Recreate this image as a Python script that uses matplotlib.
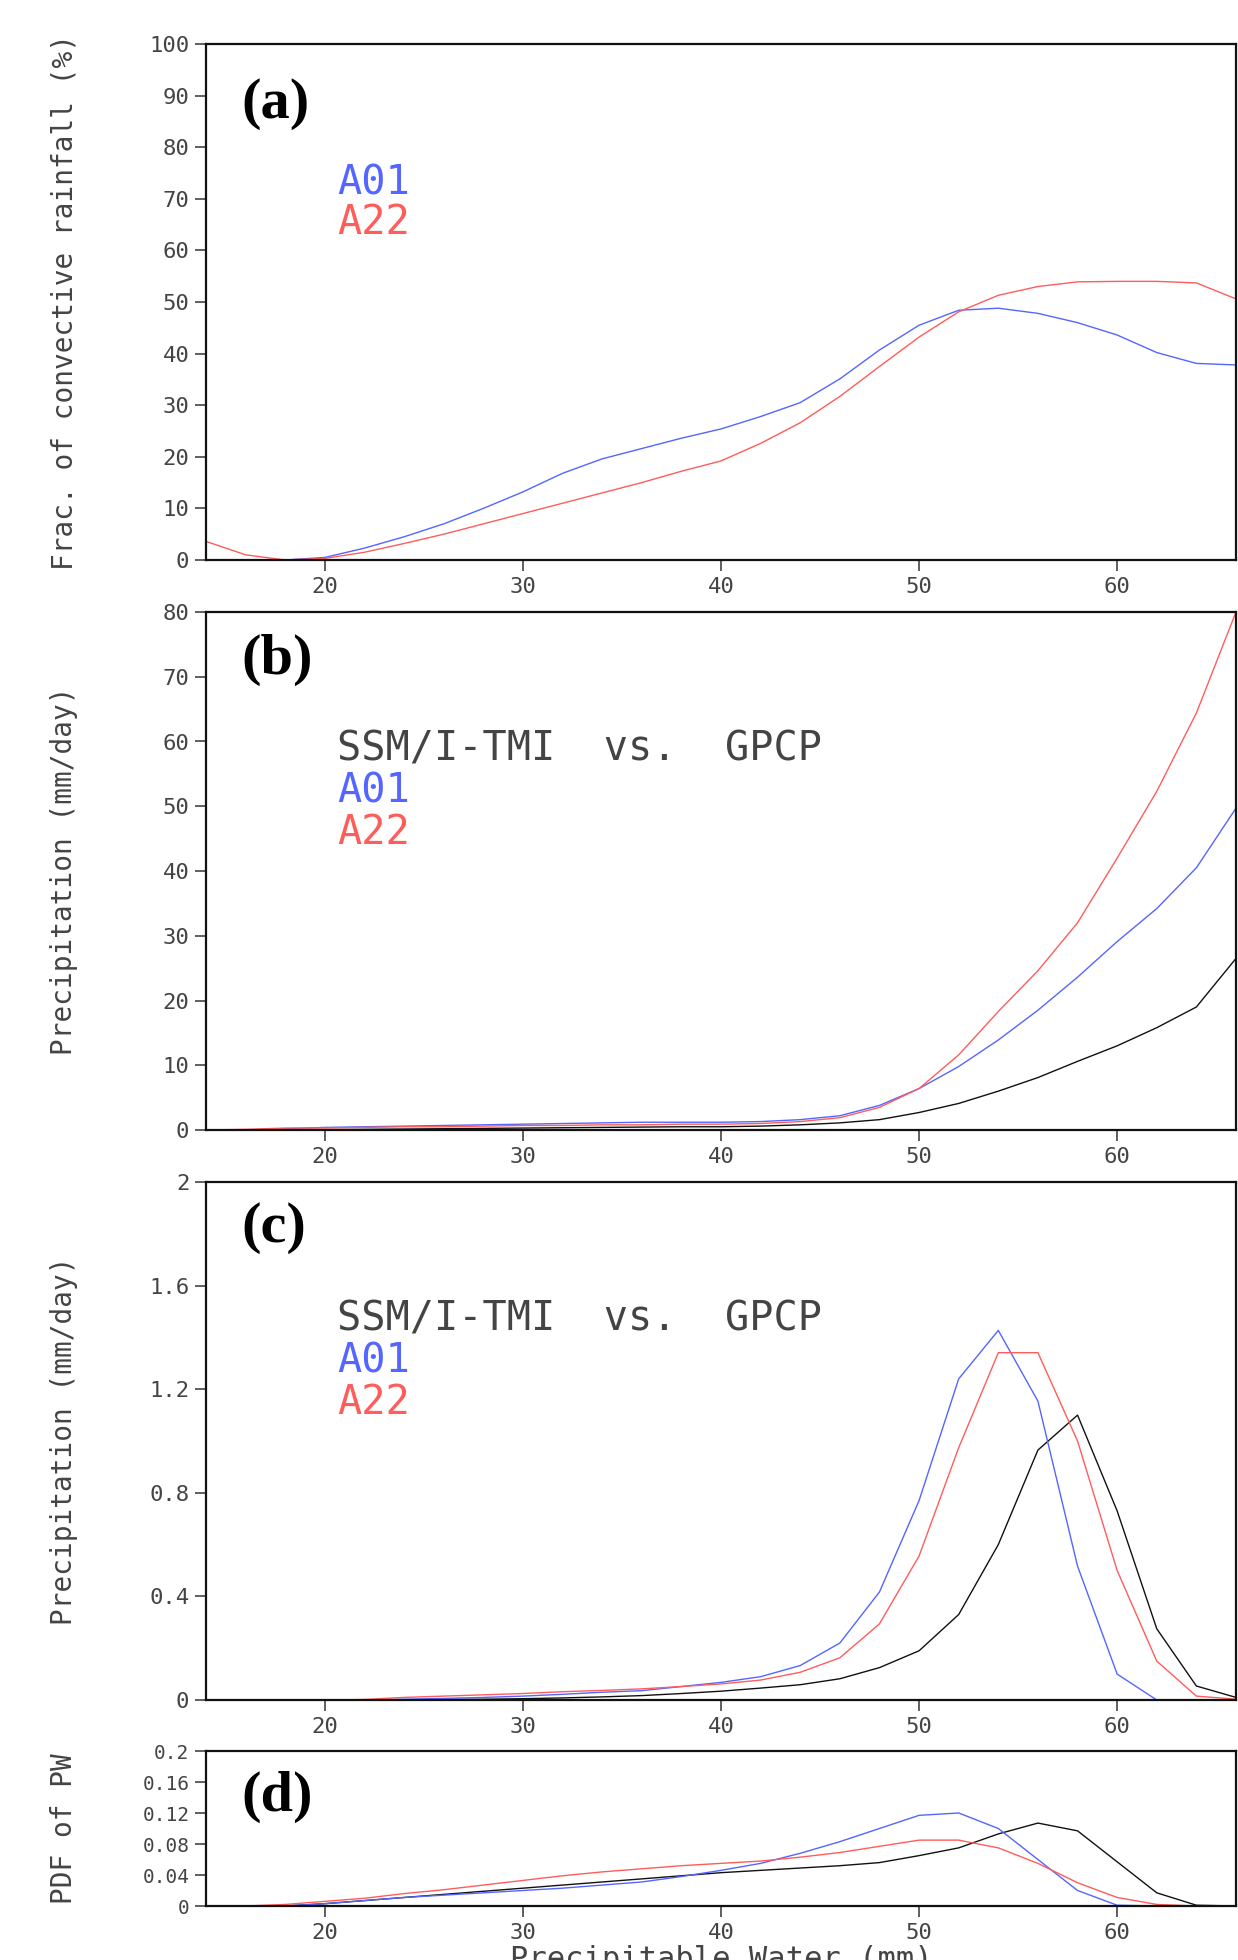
import numpy as np
import matplotlib
matplotlib.use('Agg')
import matplotlib.pyplot as plt

# GrADS-like wide lettering: a monospace face is the closest installed match
plt.rcParams['font.family'] = ['DejaVu Sans Mono', 'DejaVu Sans']

pw = np.arange(14, 67, 2)

# (a) fraction of convective rainfall (%)
conv_a01 = [np.nan, np.nan, 0.0, 0.5, 2.3, 4.5, 7.0, 10.0, 13.2, 16.8, 19.6, 21.6, 23.6, 25.4,
            27.8, 30.5, 35.1, 40.7, 45.5, 48.4, 48.8, 47.8, 46.0, 43.6, 40.2, 38.1, 37.8]
conv_a22 = [3.6, 1.0, 0.0, 0.3, 1.5, 3.2, 5.0, 7.0, 9.0, 11.0, 13.0, 15.0, 17.2, 19.2,
            22.6, 26.6, 31.7, 37.5, 43.2, 48.1, 51.3, 53.0, 53.9, 54.0, 54.0, 53.7, 50.6]

# (b) precipitation (mm/day)
prb_obs = [0.0, 0.0, 0.0, 0.05, 0.1, 0.15, 0.2, 0.25, 0.3, 0.35, 0.4, 0.45, 0.5, 0.5,
           0.6, 0.8, 1.1, 1.6, 2.7, 4.1, 6.0, 8.1, 10.6, 13.0, 15.8, 19.0, 26.5]
prb_a01 = [0.0, 0.0, 0.2, 0.4, 0.5, 0.6, 0.7, 0.8, 0.9, 1.0, 1.1, 1.2, 1.2, 1.2,
           1.3, 1.6, 2.2, 3.8, 6.4, 9.8, 13.9, 18.5, 23.6, 29.1, 34.2, 40.5, 49.7]
prb_a22 = [0.0, 0.1, 0.3, 0.3, 0.4, 0.5, 0.5, 0.6, 0.7, 0.7, 0.8, 0.8, 0.9, 0.9,
           1.0, 1.3, 1.9, 3.5, 6.4, 11.6, 18.3, 24.6, 32.0, 42.0, 52.3, 64.4, 80.0]

# (c) precipitation weighted by PDF (mm/day)
prc_obs = [0.0, 0.0, 0.0, 0.0, 0.0, 0.001, 0.002, 0.003, 0.005, 0.008, 0.012, 0.017, 0.025, 0.034,
           0.046, 0.059, 0.082, 0.125, 0.19, 0.33, 0.60, 0.965, 1.10, 0.73, 0.275, 0.054, 0.01]
prc_a01 = [0.0, 0.0, 0.0, 0.0, 0.0, 0.003, 0.006, 0.01, 0.015, 0.022, 0.03, 0.036, 0.052, 0.068,
           0.09, 0.133, 0.22, 0.417, 0.77, 1.24, 1.427, 1.154, 0.517, 0.10, 0.0, 0.0, 0.0]
prc_a22 = [0.0, 0.0, 0.0, 0.0, 0.002, 0.01, 0.015, 0.02, 0.025, 0.032, 0.037, 0.043, 0.052, 0.062,
           0.077, 0.107, 0.163, 0.294, 0.556, 0.974, 1.341, 1.341, 1.0, 0.50, 0.15, 0.015, 0.003]

# (d) PDF of PW
pdf_obs = [0.0, 0.0, 0.0, 0.003, 0.007, 0.011, 0.015, 0.019, 0.023, 0.027, 0.031, 0.035, 0.039, 0.043,
           0.046, 0.049, 0.052, 0.056, 0.065, 0.075, 0.093, 0.107, 0.097, 0.057, 0.017, 0.001, 0.0]
pdf_a01 = [0.0, 0.0, 0.0, 0.003, 0.007, 0.011, 0.014, 0.017, 0.020, 0.023, 0.027, 0.031, 0.038, 0.046,
           0.055, 0.068, 0.083, 0.100, 0.117, 0.120, 0.100, 0.060, 0.020, 0.001, 0.0, 0.0, 0.0]
pdf_a22 = [0.0, 0.0, 0.002, 0.006, 0.010, 0.016, 0.021, 0.027, 0.033, 0.039, 0.044, 0.048, 0.052, 0.055,
           0.058, 0.063, 0.069, 0.077, 0.085, 0.085, 0.075, 0.055, 0.030, 0.011, 0.002, 0.0, 0.0]

BLUE = '#5466ff'
RED = '#ff5c5c'
BLACK = '#111111'
GREY = '#444444'

fig = plt.figure(figsize=(12.38, 19.60), dpi=100)
L, W = 206 / 1238, 1030 / 1238
axa = fig.add_axes([L, 1 - 560 / 1960, W, 516 / 1960])
axb = fig.add_axes([L, 1 - 1130 / 1960, W, 518 / 1960])
axc = fig.add_axes([L, 1 - 1700 / 1960, W, 518 / 1960])
axd = fig.add_axes([L, 1 - 1906 / 1960, W, 155 / 1960])

lw = 1.0
axa.plot(pw, conv_a01, color=BLUE, lw=lw)
axa.plot(pw, conv_a22, color=RED, lw=lw)
for ax, obs, a01, a22 in [(axb, prb_obs, prb_a01, prb_a22),
                          (axc, prc_obs, prc_a01, prc_a22),
                          (axd, pdf_obs, pdf_a01, pdf_a22)]:
    ax.plot(pw, obs, color=BLACK, lw=lw)
    ax.plot(pw, a01, color=BLUE, lw=lw)
    ax.plot(pw, a22, color=RED, lw=lw)

axa.set_ylim(0, 100)
axa.set_yticks(np.arange(0, 101, 10))
axb.set_ylim(0, 80)
axb.set_yticks(np.arange(0, 81, 10))
axc.set_ylim(0, 2)
axc.set_yticks([0, 0.4, 0.8, 1.2, 1.6, 2])
axc.set_yticklabels(['0', '0.4', '0.8', '1.2', '1.6', '2'])
axd.set_ylim(0, 0.2)
axd.set_yticks([0, 0.04, 0.08, 0.12, 0.16, 0.2])
axd.set_yticklabels(['0', '0.04', '0.08', '0.12', '0.16', '0.2'])

ylabels = ['Frac. of convective rainfall (%)', 'Precipitation (mm/day)',
           'Precipitation (mm/day)', 'PDF of PW']
letters = ['(a)', '(b)', '(c)', '(d)']
letter_y = [0.934, 0.957, 0.961, 0.871]
for ax, lab, let, ly in zip([axa, axb, axc, axd], ylabels, letters, letter_y):
    ax.set_xlim(14, 66)
    ax.set_xticks([20, 30, 40, 50, 60])
    for s in ax.spines.values():
        s.set_linewidth(1.6)
        s.set_color('#111111')
    ax.tick_params(direction='out', length=8, width=1.2, labelsize=16,
                   colors=GREY, pad=4, top=False, right=False)
    ax.tick_params(axis='y', labelsize=16 if ax is not axd else 14)
    ax.set_ylabel(lab, fontsize=20, color=GREY)
    ax.yaxis.set_label_coords(-0.124, 0.5)
    ax.text(0.034, ly, let, transform=ax.transAxes, ha='left', va='top',
            fontsize=42, fontweight='bold', family=['Liberation Serif', 'DejaVu Serif'])

tx = 0.127
fs_leg = 29
axa.text(tx, 0.709, 'A01', color=BLUE, fontsize=fs_leg, transform=axa.transAxes)
axa.text(tx, 0.632, 'A22', color=RED, fontsize=fs_leg, transform=axa.transAxes)
for ax in [axb, axc]:
    ax.text(tx, 0.713, 'SSM/I-TMI  vs.  GPCP', color=GREY, fontsize=fs_leg, transform=ax.transAxes)
    ax.text(tx, 0.632, 'A01', color=BLUE, fontsize=fs_leg, transform=ax.transAxes)
    ax.text(tx, 0.552, 'A22', color=RED, fontsize=fs_leg, transform=ax.transAxes)

axd.set_xlabel('Precipitable Water (mm)', fontsize=22, color=GREY)
axd.xaxis.set_label_coords(0.5, -0.25)

fig.savefig('out.png', dpi=100)
